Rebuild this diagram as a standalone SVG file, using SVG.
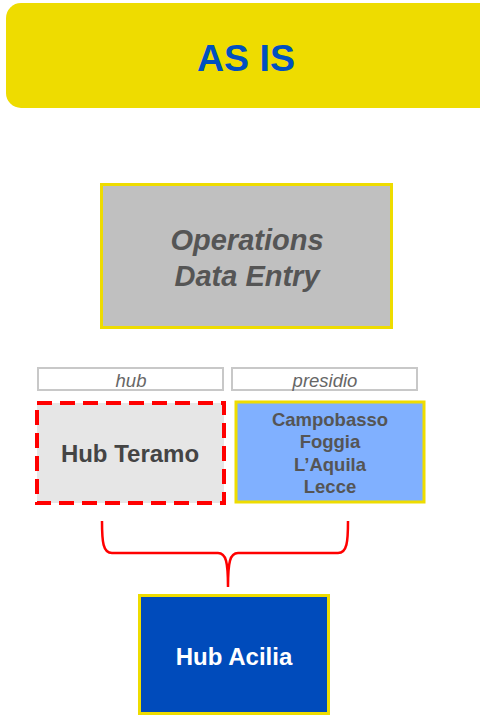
<svg xmlns="http://www.w3.org/2000/svg" width="480" height="715" viewBox="0 0 480 715">
<style>
.t{font-family:"Liberation Sans",Arial,sans-serif;text-anchor:middle}
.yb{stroke:#EEDC00;stroke-width:3}
.lbl{fill:#fff;stroke:#C8C8C8;stroke-width:2}
</style>
<rect width="480" height="715" fill="#fff"/>
<g id="title">
<rect x="6" y="3" width="490" height="105" rx="15" fill="#EEDC00"/>
<text class="t" x="246" y="71" font-size="37.5" font-weight="bold" fill="#0050C0">AS IS</text>
</g>
<g id="ops">
<rect x="101.5" y="184.5" width="290" height="143" fill="#C0C0C0" class="yb"/>
<text class="t" x="247" y="250" font-size="29" font-weight="bold" font-style="italic" fill="#555">Operations</text>
<text class="t" x="247" y="286" font-size="29" font-weight="bold" font-style="italic" fill="#555">Data Entry</text>
</g>
<g id="lbl-hub">
<rect x="38" y="368" width="185" height="22" class="lbl"/>
<text class="t" x="131" y="387" font-size="18.5" font-style="italic" fill="#666">hub</text>
</g>
<g id="lbl-presidio">
<rect x="232" y="368" width="185" height="22" class="lbl"/>
<text class="t" x="325" y="387" font-size="18.5" font-style="italic" fill="#666">presidio</text>
</g>
<g id="teramo">
<rect x="37" y="403" width="187" height="100" fill="#E6E6E6" stroke="#FF0000" stroke-width="4" stroke-dasharray="15,8"/>
<text class="t" x="130" y="462" font-size="24" font-weight="bold" fill="#444">Hub Teramo</text>
</g>
<g id="presidi">
<rect x="236" y="402" width="188" height="100" fill="#80B0FF" class="yb"/>
<text class="t" x="330" y="426" font-size="18.5" font-weight="bold" fill="#555">Campobasso</text>
<text class="t" x="330" y="448" font-size="18.5" font-weight="bold" fill="#555">Foggia</text>
<text class="t" x="330" y="471" font-size="18.5" font-weight="bold" fill="#555">L’Aquila</text>
<text class="t" x="330" y="493" font-size="18.5" font-weight="bold" fill="#555">Lecce</text>
</g>
<g id="connectors">
<path d="M102,521 C102,542 103,553 112,553 L218,553 C226,553 228,562 228,587 C228,562 230,553 238,553 L338,553 C347,553 348,542 348,521" fill="none" stroke="#FF0000" stroke-width="2.5"/>
</g>
<g id="acilia">
<rect x="139.5" y="595.5" width="189" height="118" fill="#004BBB" class="yb"/>
<text class="t" x="234" y="665" font-size="24" font-weight="bold" fill="#fff">Hub Acilia</text>
</g>
</svg>
